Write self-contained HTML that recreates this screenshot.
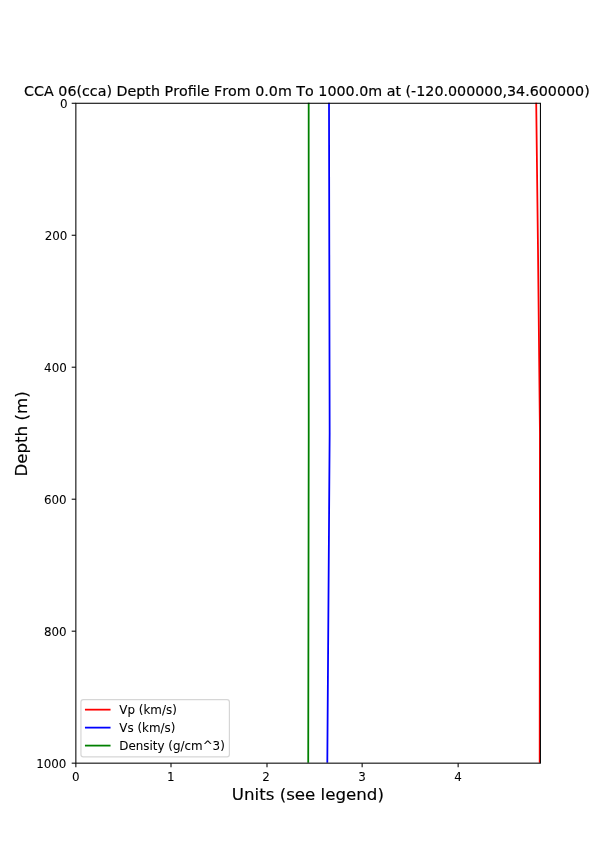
<!DOCTYPE html>
<html lang="en">
<head>
<meta charset="utf-8">
<title>CCA 06(cca) Depth Profile</title>
<style>
html,body{margin:0;padding:0;background:#fff;}
body{width:600px;height:857px;overflow:hidden;}
svg{display:block;will-change:transform;}
text{font-family:"DejaVu Sans","Liberation Sans",sans-serif;fill:#000;stroke:#000;stroke-width:0.06px;}
.tick{font-size:11.905px;}
.lab{font-size:16.667px;stroke-width:0.15px;}
.ttl{font-size:14.286px;font-kerning:none;stroke-width:0.175px;}
.sp{stroke:#000;stroke-width:1.05;fill:none;}
.ln{fill:none;stroke-width:1.786;stroke-linejoin:round;}
</style>
</head>
<body>
<svg width="600" height="857" viewBox="0 0 600 857">
<rect x="0" y="0" width="600" height="857" fill="#ffffff"/>
<defs><clipPath id="ax"><rect x="75" y="102.84" width="465" height="659.89"/></clipPath></defs>
<g clip-path="url(#ax)">
<polyline class="ln" stroke="#ff0000" points="536.20,102.00 538.00,250.00 539.95,433.00 539.70,764.00"/>
<polyline class="ln" stroke="#0000ff" points="329.00,102.00 329.66,433.00 327.30,764.00"/>
<polyline class="ln" stroke="#008000" points="308.68,102.00 308.72,433.00 308.22,764.00"/>
</g>
<g class="sp">
<line x1="75.86" y1="763.16" x2="75.86" y2="767.33"/>
<line x1="171.00" y1="763.16" x2="171.00" y2="767.33"/>
<line x1="267.00" y1="763.16" x2="267.00" y2="767.33"/>
<line x1="362.14" y1="763.16" x2="362.14" y2="767.33"/>
<line x1="458.14" y1="763.16" x2="458.14" y2="767.33"/>
<line x1="71.69" y1="103.27" x2="75.86" y2="103.27"/>
<line x1="71.69" y1="235.25" x2="75.86" y2="235.25"/>
<line x1="71.69" y1="367.20" x2="75.86" y2="367.20"/>
<line x1="71.69" y1="499.20" x2="75.86" y2="499.20"/>
<line x1="71.69" y1="631.18" x2="75.86" y2="631.18"/>
<line x1="71.69" y1="763.16" x2="75.86" y2="763.16"/>
</g>
<rect class="sp" x="75.86" y="103.27" width="464.57" height="659.89"/>
<g class="tick" text-anchor="middle">
<text x="75.86" y="780.75">0</text>
<text x="170.90" y="780.75">1</text>
<text x="266.02" y="780.75">2</text>
<text x="362.14" y="780.75">3</text>
<text x="458.14" y="780.75">4</text>
</g>
<g class="tick" text-anchor="end">
<text x="67.55" y="108.01">0</text>
<text x="67.36" y="239.99">200</text>
<text x="66.77" y="371.94">400</text>
<text x="66.60" y="503.94">600</text>
<text x="66.70" y="635.92">800</text>
<text x="66.41" y="767.90">1000</text>
</g>
<text class="lab" text-anchor="middle" x="307.85" y="799.75">Units (see legend)</text>
<text class="lab" text-anchor="middle" transform="translate(27.09,433.97) rotate(-90)">Depth (m)</text>
<text class="ttl" x="24.10" y="95.70">CCA 06(cca) Depth Profile From 0.0m To 1000.0m at (-120.000000,34.600000)</text>
<rect x="80.95" y="699.55" width="148.45" height="57.30" rx="2.38" ry="2.38" fill="#ffffff" fill-opacity="0.8" stroke="#cccccc" stroke-opacity="0.8" stroke-width="1.19"/>
<line x1="85.84" y1="709.66" x2="109.65" y2="709.66" stroke="#ff0000" stroke-width="1.786" stroke-linecap="square"/>
<line x1="85.84" y1="727.63" x2="109.65" y2="727.63" stroke="#0000ff" stroke-width="1.786" stroke-linecap="square"/>
<line x1="85.84" y1="745.60" x2="109.65" y2="745.60" stroke="#008000" stroke-width="1.786" stroke-linecap="square"/>
<g class="tick">
<text x="119.37" y="713.90">Vp (km/s)</text>
<text x="119.37" y="731.86">Vs (km/s)</text>
<text x="119.37" y="749.78">Density (g/cm^3)</text>
</g>
</svg>
</body>
</html>
